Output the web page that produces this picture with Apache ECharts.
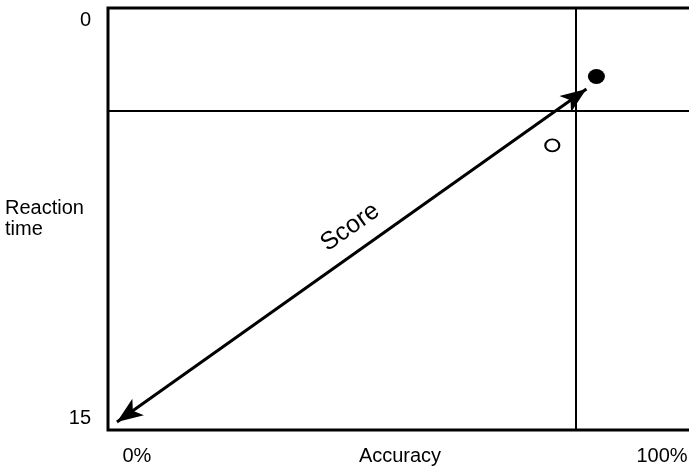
<!DOCTYPE html>
<html>
<head>
<meta charset="utf-8">
<script src="https://cdn.jsdelivr.net/npm/echarts@6/dist/echarts.min.js"></script>
<style>
  html, body { margin: 0; padding: 0; background: #fff; }
  #chart { width: 689px; height: 469px; }
</style>
</head>
<body>
<div id="chart"></div>
<script>
// values (accuracy in %, reaction time 0..15)
var xTicks = [0, 100]
var yTicks = [0, 15]
var filledPoint = [[87.5, 2.1]]
var openPoint = [[79.1, 4.7]]
var refAccuracy = 83.5
var refTime = 3.4
var arrowFrom = [-3.8, 15.15]
var arrowTo = [85.6, 2.57]

var chartDom = document.getElementById('chart');
var myChart = echarts.init(chartDom);
var option;

var font = 'Liberation Sans, Arial, sans-serif'

option = {
	animation: false,
	grid: {
		left: 108,
		right: -3,
		top: 8,
		bottom: 39,
		outerBoundsMode: 'none',
		containLabel: false,
		show: true,
		borderColor: '#000',
		borderWidth: 3,
		backgroundColor: 'transparent'
	},
	xAxis: {
		type: 'value',
		min: -5.5,
		max: 105.7,
		splitLine: { show: false },
		axisLine: { show: false },
		axisTick: { show: false },
		axisLabel: {
			customValues: xTicks,
			formatter: function (v) { return v + '%' },
			color: '#000',
			fontSize: 20,
			fontFamily: font,
			margin: 16
		},
		name: 'Accuracy',
		nameLocation: 'middle',
		nameGap: 16,
		nameMoveOverlap: false,
		nameTextStyle: { color: '#000', fontSize: 20, fontFamily: font, verticalAlign: 'top' }
	},
	yAxis: {
		type: 'value',
		inverse: true,
		min: -0.49,
		max: 15.45,
		splitLine: { show: false },
		axisLine: { show: false },
		axisTick: { show: false },
		axisLabel: {
			customValues: yTicks,
			color: '#000',
			fontSize: 20,
			fontFamily: font,
			margin: 17
		},
		name: 'Reaction\ntime',
		nameLocation: 'middle',
		nameRotate: 0,
		nameGap: 103,
		nameMoveOverlap: false,
		nameTextStyle: { color: '#000', fontSize: 20, fontFamily: font, align: 'left', lineHeight: 21 }
	},
	series: [{
		type: 'scatter',
		data: filledPoint,
		symbolSize: [17, 15],
		itemStyle: { color: '#000', opacity: 1 },
		markLine: {
			silent: true,
			symbol: 'none',
			label: { show: false },
			lineStyle: { color: '#000', width: 2, type: 'solid', opacity: 1 },
			data: [{ xAxis: refAccuracy }, { yAxis: refTime }]
		}
	}, {
		type: 'scatter',
		data: openPoint,
		symbolSize: [14, 12],
		itemStyle: { color: '#fff', borderColor: '#000', borderWidth: 2, opacity: 1 },
		markLine: {
			silent: true,
			symbol: ['arrow', 'arrow'],
			symbolSize: [15, 26],
			lineStyle: { color: '#000', width: 3, type: 'solid', opacity: 1 },
			label: {
				show: true,
				position: 'middle',
				formatter: 'Score',
				color: '#000',
				fontSize: 25,
				fontFamily: font,
				distance: 14,
				offset: [7, 0]
			},
			data: [[{ coord: arrowFrom }, { coord: arrowTo }]]
		}
	}]
};

myChart.setOption(option)
</script>
</body>
</html>
